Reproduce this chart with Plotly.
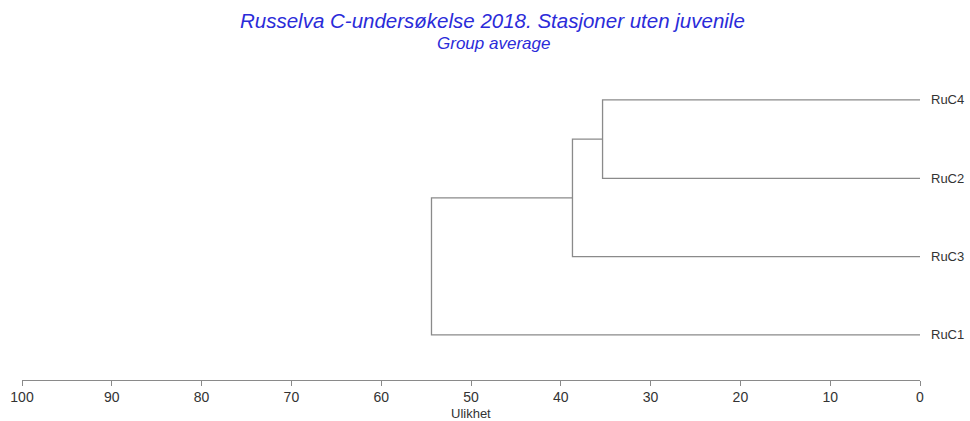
import plotly.graph_objects as go

# Leaves, top to bottom
leaves = ["RuC4", "RuC2", "RuC3", "RuC1"]
# Merges: (member a, member b), dissimilarity, name of the new cluster
merges = [["RuC4", "RuC2"], ["A", "RuC3"], ["B", "RuC1"]]
merge_heights = [35.35, 38.7, 54.4]
merge_names = ["A", "B", "C"]

x_ticks = [100, 90, 80, 70, 60, 50, 40, 30, 20, 10, 0]

ypos = {name: len(leaves) - 1 - i for i, name in enumerate(leaves)}
xpos = {name: 0.0 for name in leaves}

xs, ys = [], []
for name, (a, b), h in zip(merge_names, merges, merge_heights):
    xs += [xpos[a], h, h, xpos[b], None]
    ys += [ypos[a], ypos[a], ypos[b], ypos[b], None]
    ypos[name] = (ypos[a] + ypos[b]) / 2
    xpos[name] = h

W, H = 970, 421
ML, MR, MT, MB = 22, 50, 80, 41

fig = go.Figure()
fig.add_trace(go.Scatter(x=xs, y=ys, mode="lines",
                         line=dict(color="#8a8a8a", width=1.3),
                         hoverinfo="skip", showlegend=False))

for name in leaves:
    fig.add_annotation(x=0, y=ypos[name], xref="x", yref="y", text=name,
                       showarrow=False, xanchor="left", yanchor="middle",
                       xshift=9, font=dict(family="Arial", size=13, color="#333333"))

plot_h = H - MT - MB
plot_w = W - ML - MR
def py(pix):
    return (H - MB - pix) / plot_h
def px(pix):
    return (pix - ML) / plot_w

fig.add_annotation(x=px(492), y=py(20), xref="paper", yref="paper",
                   text="<i>Russelva C-undersøkelse 2018. Stasjoner uten juvenile</i>",
                   showarrow=False, xanchor="center", yanchor="middle",
                   font=dict(family="Arial", size=20.5, color="#2b2bd9"))
fig.add_annotation(x=px(493), y=py(44), xref="paper", yref="paper",
                   text="<i>Group average</i>",
                   showarrow=False, xanchor="center", yanchor="middle",
                   font=dict(family="Arial", size=17, color="#2b2bd9"))
fig.add_annotation(x=px(471), y=py(413), xref="paper", yref="paper",
                   text="Ulikhet", showarrow=False, xanchor="center", yanchor="middle",
                   font=dict(family="Arial", size=13, color="#333333"))

fig.update_layout(width=W, height=H,
                  margin=dict(l=ML, r=MR, t=MT, b=MB, autoexpand=False),
                  paper_bgcolor="white", plot_bgcolor="white")

fig.update_xaxes(range=[100, 0], tickvals=x_ticks, ticktext=[str(t) for t in x_ticks],
                 showgrid=False, zeroline=False, showline=True, automargin=False,
                 linecolor="#8a8a8a", linewidth=1.3,
                 ticks="outside", ticklen=5, tickcolor="#8a8a8a", tickwidth=1.3,
                 ticklabelstandoff=-1,
                 tickfont=dict(family="Arial", size=14, color="#333333"))
fig.update_yaxes(range=[-0.575, 3.255], visible=False, showgrid=False,
                 zeroline=False, automargin=False)

fig.write_html("out.html", config={"displayModeBar": False},
               post_script="document.body.style.margin='0';document.body.style.overflow='hidden';")
